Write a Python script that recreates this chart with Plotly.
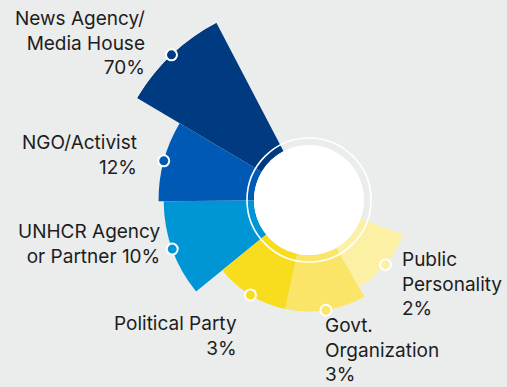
import math
import plotly.graph_objects as go

# --- data -------------------------------------------------------------
sources = [
    "News Agency/Media House",
    "NGO/Activist",
    "UNHCR Agency or Partner",
    "Political Party",
    "Govt. Organization",
    "Public Personality",
]
shares = [70, 12, 10, 3, 3, 2]
label_names = [
    "News Agency/<br>Media House<br>",
    "NGO/Activist<br>",
    "UNHCR Agency<br>or Partner ",
    "Political Party<br>",
    "Govt.<br>Organization<br>",
    "Public<br>Personality<br>",
]

# --- styling ----------------------------------------------------------
colors = ["#003a80", "#005ab5", "#0096d6", "#f8dc1e", "#fae569", "#fcf0a5"]
wedge_widths = [31.7, 31.2, 38.5, 38.7, 42.1, 40.0]   # angular width of each wedge, deg
START = 117.6                                          # first wedge starts here, deg
BG = "#ebecec"
TEXT = "#1d1d1d"
FONT = "Inter"

W, H_VIEW = 507, 387
CX, CY = 309, 200          # centre of the rose, px
R_FRAME = 200              # polar frame radius = radius of the largest share, px
R_HOLE = 55                # white centre disc, px
R_RING = 62                # thin white ring, px
SECTOR = [110, 350]
# the rose runs past the bottom edge of the view, so the page is a bit taller
H = CY + R_FRAME

# wedge centres laid out one after another, counter-clockwise
centres = []
edge = START
for w in wedge_widths:
    centres.append(edge + w / 2)
    edge += w

# log radial scale: bar bases sit on the hole edge
log_min = math.log10(0.4)
log_max = math.log10(max(shares)) + 0.001
base_val = 10 ** log_min

fig = go.Figure()

fig.add_trace(go.Barpolar(
    theta=centres,
    width=wedge_widths,
    r=[s - base_val for s in shares],
    base=[base_val] * len(shares),
    customdata=sources,
    marker=dict(color=colors, line=dict(width=0)),
    hovertemplate="%{customdata}<extra></extra>",
    showlegend=False,
))

# dots on the outer edge of every wedge
fig.add_trace(go.Scatterpolar(
    theta=centres,
    r=shares,
    mode="markers",
    marker=dict(size=11, color=colors, line=dict(color="white", width=2)),
    cliponaxis=False,
    hoverinfo="skip",
    showlegend=False,
))

# polar domain chosen so the sector's bounding box puts the centre at (CX, CY)
s0, s1 = [math.radians(a) for a in SECTOR]
bb_x0, bb_y0 = -1.0, -1.0
bb_x1 = max(math.cos(s0), math.cos(s1))
bb_y1 = max(math.sin(s0), math.sin(s1))
dom_x = [(CX + R_FRAME * bb_x0) / W, (CX + R_FRAME * bb_x1) / W]
dom_y = [1 - (CY - R_FRAME * bb_y0) / H, 1 - (CY - R_FRAME * bb_y1) / H]

fig.update_layout(
    width=W, height=H,
    margin=dict(l=0, r=0, t=0, b=0),
    paper_bgcolor=BG,
    plot_bgcolor=BG,
    polar=dict(
        domain=dict(x=dom_x, y=dom_y),
        sector=SECTOR,
        hole=R_HOLE / R_FRAME,
        bargap=0,
        bgcolor="rgba(0,0,0,0)",
        radialaxis=dict(type="log", range=[log_min, log_max], visible=False),
        angularaxis=dict(
            rotation=0,
            direction="counterclockwise",
            showline=False, showgrid=False, showticklabels=False, ticks="",
        ),
    ),
)

def circle(r, **kw):
    return dict(
        type="circle", xref="paper", yref="paper", layer="above",
        x0=(CX - r) / W, x1=(CX + r) / W,
        y0=1 - (CY + r) / H, y1=1 - (CY - r) / H, **kw,
    )

fig.add_shape(**circle(R_HOLE, fillcolor="white", line=dict(width=0)))
fig.add_shape(**circle(R_RING, fillcolor="rgba(0,0,0,0)", line=dict(color="white", width=1.6)))

# label placement (px from top-left): anchor x, vertical centre, side
label_pos = [
    (147, 43, "right"),
    (139, 155, "right"),
    (163, 244, "right"),
    (239, 336, "right"),
    (323, 350, "left"),
    (400, 284, "left"),
]
for name, share, (lx, ly, side) in zip(label_names, shares, label_pos):
    fig.add_annotation(
        text=f"{name}{share}%",
        xref="paper", yref="paper",
        x=lx / W, y=1 - ly / H,
        xanchor=side, yanchor="middle", align=side,
        showarrow=False,
        font=dict(family=FONT, size=19, color=TEXT),
    )

fig.write_html(
    "out.html",
    post_script="document.documentElement.style.overflow='hidden';"
                "document.body.style.overflow='hidden';",
)
